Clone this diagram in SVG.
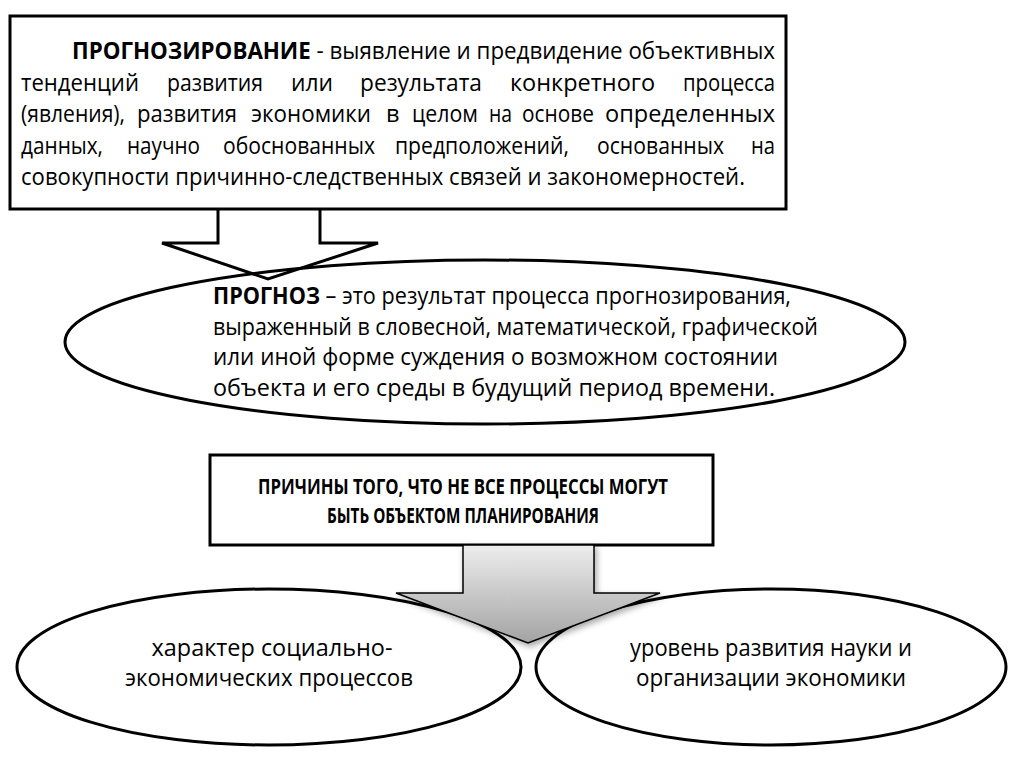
<svg xmlns="http://www.w3.org/2000/svg" width="1024" height="767" viewBox="0 0 1024 767">
<style>
text{font-family:"Open Sans","Noto Sans","Liberation Sans",sans-serif;fill:#000;}
.t{font-size:23.5px;}
.m{font-size:21px;}
.b{font-weight:bold;}
.box{fill:#fff;stroke:#000;stroke-width:3;}
.ell{fill:#fff;stroke:#000;stroke-width:3;}
</style>
<defs>
<linearGradient id="gr" x1="0" y1="0" x2="0" y2="1">
<stop offset="0" stop-color="#ededed"/>
<stop offset="1" stop-color="#a3a3a3"/>
</linearGradient>
<filter id="sh" x="-20%" y="-20%" width="140%" height="140%">
<feDropShadow dx="2" dy="3" stdDeviation="3" flood-color="#000" flood-opacity="0.35"/>
</filter>
</defs>
<rect width="1024" height="767" fill="#fff"/>

<g id="node-forecasting">
<rect class="box" x="10" y="16" width="776" height="193"/>
<text class="t" x="72" y="59" textLength="703" lengthAdjust="spacingAndGlyphs"><tspan class="b">ПРОГНОЗИРОВАНИЕ</tspan> - выявление и предвидение объективных</text>
<text class="t" x="21" y="90.5" textLength="118" lengthAdjust="spacingAndGlyphs">тенденций</text>
<text class="t" x="167" y="90.5" textLength="96" lengthAdjust="spacingAndGlyphs">развития</text>
<text class="t" x="291" y="90.5" textLength="42" lengthAdjust="spacingAndGlyphs">или</text>
<text class="t" x="360" y="90.5" textLength="122" lengthAdjust="spacingAndGlyphs">результата</text>
<text class="t" x="510" y="90.5" textLength="145" lengthAdjust="spacingAndGlyphs">конкретного</text>
<text class="t" x="683" y="90.5" textLength="92" lengthAdjust="spacingAndGlyphs">процесса</text>
<text class="t" x="21" y="122" textLength="104" lengthAdjust="spacingAndGlyphs">(явления),</text>
<text class="t" x="137" y="122" textLength="100" lengthAdjust="spacingAndGlyphs">развития</text>
<text class="t" x="251" y="122" textLength="120" lengthAdjust="spacingAndGlyphs">экономики</text>
<text class="t" x="386" y="122">в</text>
<text class="t" x="412" y="122" textLength="66" lengthAdjust="spacingAndGlyphs">целом</text>
<text class="t" x="489" y="122" textLength="23" lengthAdjust="spacingAndGlyphs">на</text>
<text class="t" x="522" y="122" textLength="72" lengthAdjust="spacingAndGlyphs">основе</text>
<text class="t" x="605" y="122" textLength="170" lengthAdjust="spacingAndGlyphs">определенных</text>
<text class="t" x="21" y="153.5" textLength="82" lengthAdjust="spacingAndGlyphs">данных,</text>
<text class="t" x="127" y="153.5" textLength="73" lengthAdjust="spacingAndGlyphs">научно</text>
<text class="t" x="223" y="153.5" textLength="152" lengthAdjust="spacingAndGlyphs">обоснованных</text>
<text class="t" x="395" y="153.5" textLength="174" lengthAdjust="spacingAndGlyphs">предположений,</text>
<text class="t" x="597" y="153.5" textLength="127" lengthAdjust="spacingAndGlyphs">основанных</text>
<text class="t" x="751" y="153.5" textLength="24" lengthAdjust="spacingAndGlyphs">на</text>
<text class="t" x="21" y="185" textLength="724" lengthAdjust="spacingAndGlyphs">совокупности причинно-следственных связей и закономерностей.</text>
</g>

<g id="node-forecast">
<ellipse class="ell" cx="485" cy="342" rx="420" ry="82"/>
<text class="t" x="213" y="304" textLength="578" lengthAdjust="spacingAndGlyphs"><tspan class="b">ПРОГНОЗ</tspan> – это результат процесса прогнозирования,</text>
<text class="t" x="213" y="334.5" textLength="605" lengthAdjust="spacingAndGlyphs">выраженный в словесной, математической, графической</text>
<text class="t" x="213" y="365" textLength="565" lengthAdjust="spacingAndGlyphs">или иной форме суждения о возможном состоянии</text>
<text class="t" x="213" y="395.5" textLength="562" lengthAdjust="spacingAndGlyphs">объекта и его среды в будущий период времени.</text>
</g>

<g id="node-reasons">
<rect class="box" x="210" y="455" width="503" height="90"/>
<text class="m b" x="463" y="494" text-anchor="middle" textLength="410" lengthAdjust="spacingAndGlyphs">ПРИЧИНЫ ТОГО, ЧТО НЕ ВСЕ ПРОЦЕССЫ МОГУТ</text>
<text class="m b" x="463" y="523" text-anchor="middle" textLength="272" lengthAdjust="spacingAndGlyphs">БЫТЬ ОБЪЕКТОМ ПЛАНИРОВАНИЯ</text>
</g>

<g id="node-social">
<ellipse class="ell" cx="269" cy="667" rx="252" ry="78"/>
<text class="t" x="272" y="656" text-anchor="middle" textLength="241" lengthAdjust="spacingAndGlyphs">характер социально-</text>
<text class="t" x="269" y="686" text-anchor="middle" textLength="288" lengthAdjust="spacingAndGlyphs">экономических процессов</text>
</g>

<g id="node-science">
<ellipse class="ell" cx="771" cy="667" rx="235" ry="78"/>
<text class="t" x="771" y="656" text-anchor="middle" textLength="282" lengthAdjust="spacingAndGlyphs">уровень развития науки и</text>
<text class="t" x="771" y="686" text-anchor="middle" textLength="270" lengthAdjust="spacingAndGlyphs">организации экономики</text>
</g>

<g id="connectors">
<path d="M218 209 V243 H162 L268 279 L378 243 H320 V209" fill="none" stroke="#000" stroke-width="3" stroke-linejoin="miter"/>
<path d="M463 545 V593 H396 L528 643 L660 593 H594 V545 Z" fill="url(#gr)" stroke="#000" stroke-width="1.5" filter="url(#sh)"/>
</g>
</svg>
